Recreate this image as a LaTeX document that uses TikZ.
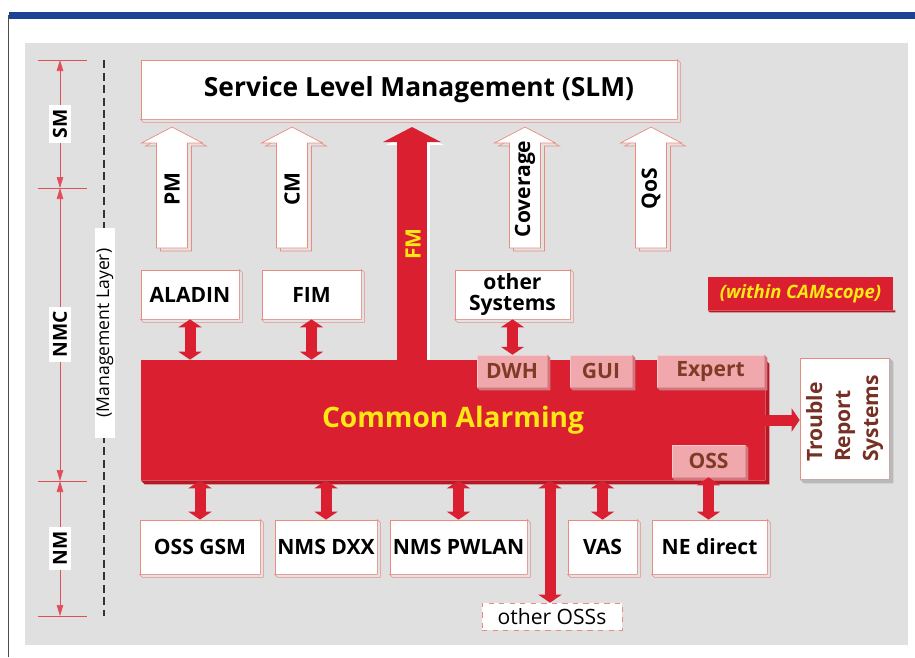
\documentclass[tikz,border=0pt]{standalone}
\usepackage{fontspec}
\setmainfont{Open Sans}
\usetikzlibrary{arrows.meta, positioning, calc}
\definecolor{camred}{RGB}{218,32,48}
\definecolor{camdark}{RGB}{188,22,36}
\definecolor{camyellow}{RGB}{255,232,20}
\definecolor{boxline}{RGB}{232,140,128}
\definecolor{pinkfill}{RGB}{240,168,172}
\definecolor{pinkdepth}{RGB}{212,118,126}
\definecolor{pinktext}{RGB}{128,58,38}
\definecolor{panelgray}{RGB}{224,224,224}
\definecolor{barblue}{RGB}{28,66,148}
\definecolor{trstext}{RGB}{118,48,36}

\begin{document}
\begin{tikzpicture}[x=0.02cm, y=-0.02cm,
  >={Triangle[width=0.46cm,length=0.16cm]},
  sysbox/.style={draw=boxline, line width=0.4pt, fill=white, inner sep=0pt, font=\fontsize{12}{13}\selectfont\bfseries},
  pinkbox/.style={draw=pinkfill!60!white, line width=0.3pt, fill=pinkfill, inner sep=0pt, text=pinktext, minimum height=0.64cm, font=\fontsize{12}{13}\selectfont\bfseries},
  boxdepth/.style={draw=boxline, line width=0.3pt, fill=gray!22},
  flowarrow/.style={draw=camred, line width=0.22cm},
  layerlbl/.style={fill=white, inner sep=2.5pt, rotate=90, font=\fontsize{11}{12}\selectfont\bfseries},
  dimline/.style={draw=camred!80, line width=0.4pt},
  dimtip/.style={{Triangle[width=0.13cm,length=0.22cm]}-{Triangle[width=0.13cm,length=0.22cm]}}
]
  \useasboundingbox (0,0) rectangle (915,657);

  % frame and panel
  \fill[panelgray] (25,43) rectangle (908,645);
  \fill[barblue] (9,12) rectangle (915,19);
  \draw[gray!60!black, line width=0.6pt] (8.5,15) -- (8.5,657);

  % layer scale on the left
  \coordinate (lay1) at (60,60);
  \coordinate (lay2) at (60,188);
  \coordinate (lay3) at (60,481);
  \coordinate (lay4) at (60,616);
  \foreach \c in {lay1,lay2,lay3,lay4}
    \draw[dimline] ($(\c)+(-22,0)$) -- ($(\c)+(27,0)$);
  \draw[dimline, dimtip] (lay1) -- (lay2) node[midway, layerlbl] (smlbl) {SM};
  \draw[dimline, dimtip] (lay2) -- (lay3) node[midway, layerlbl] (nmclbl) {NMC};
  \draw[dimline, dimtip] (lay3) -- (lay4) node[midway, layerlbl] (nmlbl) {NM};

  \draw[gray!40!black, line width=0.6pt, dash pattern=on 0.16cm off 0.09cm] (104,60) -- (104,616);
  \node[fill=white, rotate=90, minimum width=4.2cm, minimum height=0.4cm, inner sep=0pt,
        font=\fontsize{10}{12}\selectfont] (mgmt) at (105,333) {(Management Layer)};

  % service level
  \node[sysbox, minimum width=10.72cm, minimum height=1.18cm, font=\fontsize{15}{18}\selectfont\bfseries]
    (slm) at (409,89.5) {\hspace*{0.4cm}Service Level Management (SLM)};
  \filldraw[boxdepth] (slm.south west) -- ++(3,3) -| ($(slm.north east)+(3,3)$) -- (slm.north east) -- (slm.south east) -- cycle;

  % hollow arrows into SLM
  \foreach \x/\lbl/\nm in {172/PM/pm, 292/CM/cm, 525/Coverage/cov, 651/QoS/qos}{
    \filldraw[boxdepth, shift={(4,3)}] (\x-15.5,248) -- (\x-15.5,143) -- (\x-30.5,143) -- (\x,127)
      -- (\x+30.5,143) -- (\x+15.5,143) -- (\x+15.5,248) -- cycle;
    \filldraw[draw=boxline, line width=0.4pt, fill=white] (\x-15.5,248) -- (\x-15.5,143) -- (\x-30.5,143)
      -- (\x,127) -- (\x+30.5,143) -- (\x+15.5,143) -- (\x+15.5,248) -- cycle;
    \node[rotate=90, font=\fontsize{12}{13}\selectfont\bfseries] (\nm) at (\x,189) {\lbl};
  }

  % common alarming
  \node[fill=camred, inner sep=0pt, minimum width=12.48cm, minimum height=2.4cm, text=camyellow,
        font=\fontsize{16}{18}\selectfont\bfseries] (ca) at (453,420) {Common Alarming};
  \fill[camdark] (ca.south west) -- ++(4,4) -| ($(ca.north east)+(4,4)$) -- (ca.north east) -- (ca.south east) -- cycle;

  % FM arrow
  \coordinate (fmtip) at (412,127);
  \draw[white, line width=0.6cm, -{Triangle[width=1.14cm,length=0.3cm]}]
    ($(fmtip |- ca.north)+(3,0)$) -- ($(fmtip)+(3,3)$);
  \draw[camred, line width=0.6cm, -{Triangle[width=1.14cm,length=0.3cm]}] (fmtip |- ca.north) -- (fmtip);
  \node[rotate=90, text=camyellow, font=\fontsize{12}{13}\selectfont\bfseries] (fmlbl) at (413,244) {FM};

  % parts inside common alarming
  \node[pinkbox, minimum width=1.4cm] (dwh) at (512,371) {DWH};
  \node[pinkbox, minimum width=1.24cm] (gui) at (601,371) {GUI};
  \node[pinkbox, minimum width=2.14cm] (expert) at (710.5,371) {Expert};
  \node[pinkbox, minimum width=1.46cm] (oss) at (708.5,461) {OSS};
  \foreach \n in {dwh,gui,expert,oss}
    \fill[pinkdepth] (\n.south west) -- ++(3,3) -| ($(\n.north east)+(3,3)$) -- (\n.north east) -- (\n.south east) -- cycle;

  % management systems
  \node[sysbox, minimum width=1.96cm, minimum height=0.98cm] (aladin) at (190,294.5) {ALADIN};
  \node[sysbox, minimum width=1.98cm, minimum height=0.98cm] (fim) at (311.5,294.5) {FIM};
  \node[sysbox, minimum width=2.3cm, minimum height=0.98cm, align=center, font=\fontsize{12}{12}\selectfont\bfseries]
    (othsys) at (512.5,294.5) {other\\Systems};
  \node[fill=camred, minimum width=3.7cm, minimum height=0.66cm, inner sep=0pt, text=camyellow,
        font=\fontsize{10.5}{13}\selectfont\bfseries\itshape] (scope) at (800.5,293.5) {(within CAMscope)};
  \fill[camdark] (scope.south west) -- ++(2,2) -| ($(scope.south east)+(2,0)$) -- (scope.south east) -- cycle;

  % trouble report systems
  \node[sysbox, minimum width=1.78cm, minimum height=2.42cm, text=trstext, font=\fontsize{12}{16}\selectfont\bfseries]
    (trs) at (844.5,418.5) {\rotatebox{90}{\begin{tabular}{@{}l@{}}Trouble\\Report\\Systems\end{tabular}}};
  \fill[gray!55] (trs.south west) -- ++(4,4) -| ($(trs.north east)+(4,4)$) -- (trs.north east) -- (trs.south east) -- cycle;

  % network management systems
  \node[sysbox, minimum width=2.4cm, minimum height=1.08cm] (ossgsm) at (200,547) {OSS GSM};
  \node[sysbox, minimum width=2.04cm, minimum height=1.08cm] (nmsdxx) at (326,547) {NMS DXX};
  \node[sysbox, minimum width=2.74cm, minimum height=1.08cm] (pwlan) at (458.5,547) {NMS PWLAN};
  \node[sysbox, minimum width=1.38cm, minimum height=1.08cm] (vas) at (602.5,547) {VAS};
  \node[sysbox, minimum width=2.3cm, minimum height=1.08cm] (nedir) at (709.5,547) {NE direct};
  \foreach \n in {aladin,fim,othsys,ossgsm,nmsdxx,pwlan,vas,nedir}
    \filldraw[boxdepth] (\n.south west) -- ++(3,3) -| ($(\n.north east)+(3,3)$) -- (\n.north east) -- (\n.south east) -- cycle;
  \node[draw=boxline, dashed, fill=white, minimum width=2.8cm, minimum height=0.54cm, inner sep=0pt,
        font=\fontsize{12}{13}\selectfont] (othoss) at (552,616.5) {other OSSs};

  % connectors
  \draw[flowarrow, <->] (aladin.south) -- (aladin.south |- ca.north);
  \draw[flowarrow, <->] (fim.south) -- (fim.south |- ca.north);
  \draw[flowarrow, <->] (othsys.south) -- (othsys.south |- dwh.north);
  \foreach \n in {ossgsm,nmsdxx,pwlan,vas}
    \draw[flowarrow, <->] (\n.north |- ca.south) -- (\n.north);
  \draw[flowarrow, <->] (oss.south) -- (nedir.north -| oss.south);
  \draw[flowarrow, <->] ($(othoss.north |- ca.south)+(-2,0)$) -- ($(othoss.north)+(-2,0)$);
  \draw[flowarrow, ->] (ca.east) -- (ca.east -| trs.west);
\end{tikzpicture}
\end{document}
